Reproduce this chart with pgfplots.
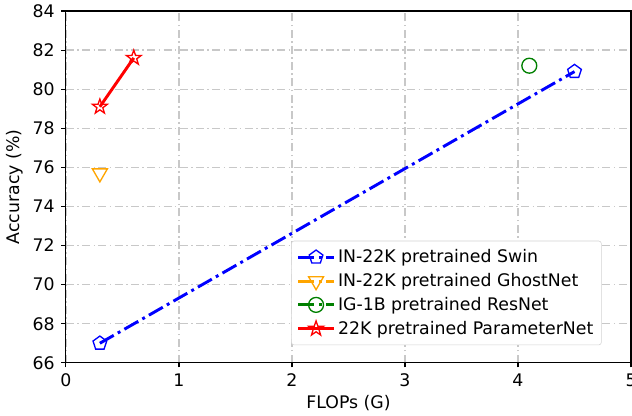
\documentclass[border=0pt]{standalone}
\usepackage{fontspec}
\setmainfont{DejaVu Sans}
\usepackage{pgfplots}
\pgfplotsset{compat=1.18}
\usetikzlibrary{plotmarks}
\definecolor{mplorange}{RGB}{255,165,0}
\definecolor{mplgreen}{RGB}{0,128,0}
\definecolor{gridgray}{RGB}{200,200,200}
\pgfdeclareplotmark{starpoly}{%
  \pgfpathmoveto{\pgfpointpolar{90}{\pgfplotmarksize}}%
  \pgfpathlineto{\pgfpointpolar{126}{0.4\pgfplotmarksize}}%
  \pgfpathlineto{\pgfpointpolar{162}{\pgfplotmarksize}}%
  \pgfpathlineto{\pgfpointpolar{198}{0.4\pgfplotmarksize}}%
  \pgfpathlineto{\pgfpointpolar{234}{\pgfplotmarksize}}%
  \pgfpathlineto{\pgfpointpolar{270}{0.4\pgfplotmarksize}}%
  \pgfpathlineto{\pgfpointpolar{306}{\pgfplotmarksize}}%
  \pgfpathlineto{\pgfpointpolar{342}{0.4\pgfplotmarksize}}%
  \pgfpathlineto{\pgfpointpolar{18}{\pgfplotmarksize}}%
  \pgfpathlineto{\pgfpointpolar{54}{0.4\pgfplotmarksize}}%
  \pgfpathclose
  \pgfusepathqstroke
}
\begin{document}
\begin{tikzpicture}
\begin{axis}[
  name=ax,
  scale only axis,
  width=424pt, height=264pt,
  xmin=0, xmax=5, ymin=66, ymax=84,
  xtick={0,1,2,3,4,5},
  ytick={66,68,70,72,74,76,78,80,82,84},
  tick align=outside,
  tick pos=left,
  major tick length=3.5pt,
  tick style={black, line width=0.8pt},
  axis line style={black, line width=0.8pt},
  /pgf/number format/assume math mode=true,
  ticklabel style={font=\fontsize{13}{15}\selectfont},
  xticklabel style={yshift=-1pt},
  yticklabel style={xshift=-1.5pt},
  label style={font=\fontsize{13}{15}\selectfont},
  xlabel={FLOPs (G)},
  ylabel={Accuracy (\%)},
  grid=major,
  major grid style={gridgray, line width=0.9pt, dash pattern=on 6pt off 2.5pt on 1.2pt off 2.5pt},
  legend style={at={(0.948,0.05)}, anchor=south east, draw=gray!35, rounded corners=2pt,
    font=\fontsize{13}{15}\selectfont, row sep=2.5pt, inner xsep=4pt, inner ysep=4.5pt},
  legend cell align=left,
  legend image code/.code={%
    \draw[mark repeat=2,mark phase=2] plot coordinates {(0cm,0cm) (0.47cm,0cm) (0.94cm,0cm)};},
]
\addplot[blue, line width=2.2pt, dash pattern=on 12pt off 3.5pt on 2.2pt off 3.5pt,
  mark=pentagon, mark size=5.4pt, mark options={solid, line width=1pt}]
  coordinates {(0.3,67.0) (4.5,80.9)};
\addlegendentry{IN-22K pretrained Swin}
\addplot[mplorange, line width=2.2pt, dash pattern=on 12pt off 3.5pt on 2.2pt off 3.5pt,
  mark=triangle, mark size=6.5pt, mark options={solid, line width=1pt, rotate=180}]
  coordinates {(0.3,75.7)};
\addlegendentry{IN-22K pretrained GhostNet}
\addplot[mplgreen, line width=2.2pt, dash pattern=on 12pt off 3.5pt on 2.2pt off 3.5pt,
  mark=o, mark size=5.6pt, mark options={solid, line width=1pt}]
  coordinates {(4.1,81.2)};
\addlegendentry{IG-1B pretrained ResNet}
\addplot[red, line width=2.2pt,
  mark=starpoly, mark size=5.8pt, mark options={solid, line width=1pt}]
  coordinates {(0.3,79.1) (0.6,81.6)};
\addlegendentry{22K pretrained ParameterNet}
\end{axis}
\path (ax.south west) ++(-49.5pt,-39.75pt) coordinate (bl);
\path (ax.north east) ++(0.75pt,8.25pt) coordinate (tr);
\pgfresetboundingbox
\path (bl) rectangle (tr);
\end{tikzpicture}
\end{document}
